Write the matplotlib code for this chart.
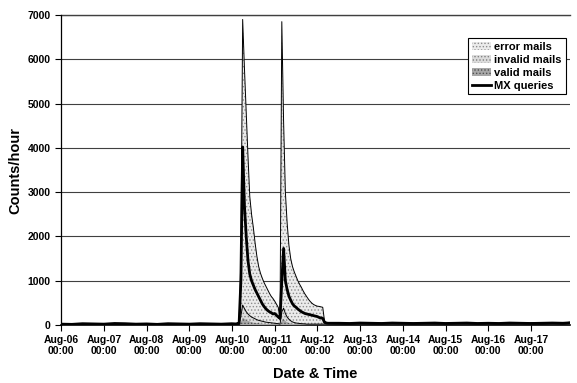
import numpy as np
import matplotlib.pyplot as plt

plt.rcParams['font.family'] = ['Liberation Sans', 'DejaVu Sans']
plt.rcParams['font.weight'] = 'bold'
plt.rcParams['hatch.linewidth'] = 0.6

# hours since Aug-06 00:00
pre_hours = [0, 6, 12, 18, 24, 30, 36, 42, 48, 54, 60, 66, 72, 78, 84, 90, 96]
win_hours = list(range(97, 151))
post_hours = [156, 162, 168, 174, 180, 186, 192, 198, 204, 210, 216, 222, 228,
              234, 240, 246, 252, 258, 264, 270, 276, 282, 286]

valid_pre = [3, 2, 4, 3, 2, 5, 3, 2, 4, 3, 2, 4, 3, 2, 3, 2, 4]
invalid_pre = [6, 5, 8, 6, 5, 9, 6, 5, 7, 6, 5, 8, 6, 5, 6, 5, 8]
error_pre = [8, 10, 14, 9, 12, 20, 10, 8, 12, 9, 10, 14, 9, 8, 10, 9, 14]
mx_pre = [20, 15, 30, 25, 20, 35, 30, 20, 25, 15, 30, 25, 20, 30, 25, 20, 30]

valid_win = [5, 5, 5, 10, 80, 180, 150, 120, 100, 85, 70, 60, 55, 50, 45, 40, 35, 30,
             28, 25, 22, 20, 18, 16, 15, 12, 8, 120, 150, 100, 70, 50, 40, 30, 25, 20,
             18, 15, 12, 12, 10, 10, 10, 8, 8, 8, 8, 8, 8, 8, 8, 8, 8, 8]
invalid_win = [15, 15, 15, 20, 120, 270, 220, 180, 150, 125, 110, 100, 85, 70, 60, 55,
               50, 45, 37, 35, 33, 30, 27, 24, 20, 18, 12, 180, 230, 160, 110, 80, 55,
               40, 30, 25, 22, 20, 18, 16, 15, 10, 10, 12, 12, 12, 12, 12, 12, 12, 12,
               12, 12, 12]
error_win = [20, 20, 20, 30, 1300, 6450, 5430, 4500, 3550, 2690, 2320, 2040, 1710, 1430,
             1215, 1075, 975, 885, 815, 740, 665, 600, 555, 500, 435, 370, 100, 6550,
             4220, 2740, 2120, 1670, 1405, 1250, 1145, 1055, 960, 885, 820, 742, 675,
             620, 560, 510, 470, 440, 420, 405, 400, 390, 380, 70, 40, 30]
mx_win = [25, 20, 30, 30, 1000, 4020, 2700, 2000, 1450, 1150, 1000, 900, 800, 720, 640,
          560, 480, 420, 370, 330, 300, 280, 250, 260, 220, 180, 150, 1000, 1730, 1000,
          800, 650, 560, 480, 430, 400, 360, 330, 300, 280, 260, 250, 240, 230, 220,
          210, 200, 190, 170, 160, 150, 60, 45, 40]

valid_post = [6, 5, 6, 5, 6, 5, 6, 5, 6, 5, 6, 5, 6, 5, 6, 5, 6, 5, 6, 5, 6, 5, 6]
invalid_post = [10, 9, 11, 10, 9, 12, 10, 9, 11, 10, 9, 12, 10, 9, 11, 10, 9, 12, 10, 9,
                11, 10, 12]
error_post = [30, 25, 35, 28, 30, 40, 25, 30, 35, 28, 25, 30, 35, 28, 30, 25, 35, 28, 30,
              40, 35, 30, 45]
mx_post = [40, 35, 45, 40, 35, 45, 40, 35, 40, 45, 35, 40, 45, 35, 40, 35, 45, 40, 35,
           40, 45, 40, 50]

day_labels = ['Aug-06', 'Aug-07', 'Aug-08', 'Aug-09', 'Aug-10', 'Aug-11',
              'Aug-12', 'Aug-13', 'Aug-14', 'Aug-15', 'Aug-16', 'Aug-17']

hours = np.array(pre_hours + win_hours + post_hours)
valid = np.array(valid_pre + valid_win + valid_post)
invalid = np.array(invalid_pre + invalid_win + invalid_post)
error = np.array(error_pre + error_win + error_post)
mx = np.array(mx_pre + mx_win + mx_post)

fig = plt.figure(figsize=(5.77, 3.83), dpi=100)
ax = fig.add_axes([0.106, 0.1514, 0.882, 0.8094])

lvl1 = valid
lvl2 = valid + invalid
lvl3 = valid + invalid + error

ax.fill_between(hours, 0, lvl1, facecolor='#a8a8a8', edgecolor='#505050',
                hatch='.....', linewidth=0, label='valid mails', zorder=3)
ax.fill_between(hours, lvl1, lvl2, facecolor='#dcdcdc', edgecolor='#808080',
                hatch='.....', linewidth=0, label='invalid mails', zorder=3)
ax.fill_between(hours, lvl2, lvl3, facecolor='#ebebeb', edgecolor='#8c8c8c',
                hatch='.....', linewidth=0, label='error mails', zorder=3)
ax.plot(hours, lvl2, color='black', lw=0.7, zorder=4)
ax.plot(hours, lvl3, color='black', lw=0.7, zorder=4)
ax.plot(hours, mx, color='black', lw=2.0, label='MX queries', zorder=5)

ax.set_xlim(0, 286)
ax.set_ylim(0, 7000)
ax.set_yticks(range(0, 7001, 1000))
ax.set_xticks([24 * i for i in range(len(day_labels))])
ax.set_xticklabels([d + '\n00:00' for d in day_labels])
ax.tick_params(axis='both', labelsize=7.5, direction='out', length=4, width=0.8)
ax.tick_params(axis='x', pad=3)
ax.yaxis.grid(True, color='#404040', lw=0.8, zorder=1)
ax.set_axisbelow(True)
for s in ['top', 'right']:
    ax.spines[s].set_visible(False)
ax.spines['left'].set_linewidth(0.9)
ax.spines['bottom'].set_linewidth(1.2)
ax.axhline(7000, color='#404040', lw=1.0, clip_on=False, zorder=1)

ax.set_xlabel('Date & Time', fontsize=10.5, fontweight='bold', labelpad=8)
ax.set_ylabel('Counts/hour', fontsize=10.5, fontweight='bold', labelpad=4)

handles, labels = ax.get_legend_handles_labels()
order = [labels.index(n) for n in ['error mails', 'invalid mails', 'valid mails', 'MX queries']]
leg = ax.legend([handles[i] for i in order], [labels[i] for i in order],
                loc='upper right', bbox_to_anchor=(0.9916, 0.9248), borderaxespad=0,
                fancybox=False, framealpha=1, edgecolor='black', fontsize=8,
                handlelength=1.7, handletextpad=0.3, labelspacing=0.25,
                borderpad=0.35)
leg.get_frame().set_linewidth(0.8)

fig.savefig('out.png', dpi=100)
